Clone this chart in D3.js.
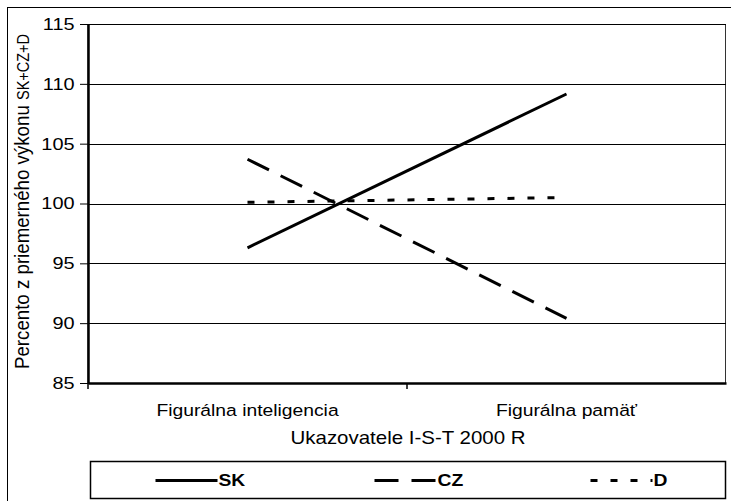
<!DOCTYPE html>
<html>
<head>
<meta charset="utf-8">
<script src="https://cdn.jsdelivr.net/npm/d3@7"></script>
<style>
  body { margin: 0; background: #fff; }
  text { font-family: "Liberation Sans", Arial, sans-serif; fill: #000; }
</style>
</head>
<body>
<div id="chart"></div>
<script>
var categories = ["Figurálna inteligencia", "Figurálna pamäť"];
var seriesNames = ["SK", "CZ", "D"];
var skValues = [96.3, 109.15];
var czValues = [103.7, 90.4];
var dValues = [100.1, 100.5];
var yTicks = [85, 90, 95, 100, 105, 110, 115];

var series = [
    {name: seriesNames[0], values: skValues, dash: null},
    {name: seriesNames[1], values: czValues, dash: "24,13"},
    {name: seriesNames[2], values: dValues, dash: "7,13"}
];

var W = 731, H = 501;
var margin = {top: 24, right: 5, bottom: 118, left: 88};
var width = W - margin.left - margin.right;
var height = H - margin.top - margin.bottom;
var stretch = "scale(1.17,1)";   // reference text looks horizontally stretched

var svg = d3.select("#chart").append("svg")
    .attr("width", W)
    .attr("height", H);

// outer frame
svg.append("rect")
    .attr("x", 7.5).attr("y", 7.5)
    .attr("width", 760).attr("height", 520)
    .attr("fill", "none").attr("stroke", "#000").attr("stroke-width", 1);

var chart = svg.append("g")
    .attr("transform", "translate(" + margin.left + "," + margin.top + ")");

var x = d3.scaleBand().domain(categories).range([0, width]).padding(0);
var y = d3.scaleLinear().domain([85, 115]).range([height, 0]);

// plot border
chart.append("rect")
    .attr("x", 0).attr("y", 0.5)
    .attr("width", width - 0.5).attr("height", height)
    .attr("fill", "none").attr("stroke", "#333").attr("stroke-width", 1);

// gridlines
chart.selectAll(".grid")
    .data(yTicks.slice(1))
    .enter().append("line")
    .attr("class", "grid")
    .attr("x1", 0).attr("x2", width)
    .attr("y1", function(d) { return Math.round(y(d)) + 0.5; })
    .attr("y2", function(d) { return Math.round(y(d)) + 0.5; })
    .attr("stroke", "#000").attr("stroke-width", 1);

// y axis
var yAxis = chart.append("g")
    .attr("class", "axis")
    .call(d3.axisLeft(y).tickValues(yTicks).tickSize(8).tickSizeOuter(0).tickPadding(4));
yAxis.select(".domain").attr("stroke-width", 2.5);
yAxis.selectAll(".tick line").attr("stroke-width", 1);
yAxis.selectAll("text")
    .attr("x", -11.5)
    .attr("transform", stretch)
    .style("font-size", "17px")
    .style("font-family", "'Liberation Sans', Arial, sans-serif");

// x axis
var xAxis = chart.append("g")
    .attr("class", "axis")
    .attr("transform", "translate(0," + height + ")")
    .call(d3.axisBottom(x).tickSize(0).tickSizeOuter(0).tickPadding(21));
xAxis.select(".domain").attr("stroke-width", 2.5);
xAxis.selectAll("text")
    .attr("transform", stretch)
    .style("font-size", "16.5px")
    .style("font-family", "'Liberation Sans', Arial, sans-serif");

// category boundary ticks
chart.selectAll(".xtick")
    .data([0, width / 2])
    .enter().append("line")
    .attr("class", "xtick")
    .attr("x1", function(d) { return d; }).attr("x2", function(d) { return d; })
    .attr("y1", height).attr("y2", height + 6)
    .attr("stroke", "#000").attr("stroke-width", 1.5);

// axis titles
chart.append("g")
    .attr("transform", "translate(" + (width / 2 + 1) + "," + (height + 61) + ") " + stretch)
    .append("text")
    .attr("text-anchor", "middle")
    .style("font-size", "17.5px")
    .text("Ukazovatele I-S-T 2000 R");

var yTitle = chart.append("text")
    .attr("transform", "translate(" + (-59) + "," + (height / 2 - 2) + ") rotate(-90) scale(1,1.1)")
    .attr("text-anchor", "middle")
    .style("font-size", "18.7px");
yTitle.append("tspan").text("Percento z priemerného výkonu ");
yTitle.append("tspan").style("font-size", "14.5px").text("SK+CZ+D");

// lines
var line = d3.line()
    .x(function(d, i) { return x(categories[i]) + x.bandwidth() / 2; })
    .y(function(d) { return y(d); });

chart.selectAll(".series")
    .data(series)
    .enter().append("path")
    .attr("class", "series")
    .attr("d", function(d) { return line(d.values); })
    .attr("fill", "none")
    .attr("stroke", "#000")
    .attr("stroke-width", 3)
    .attr("stroke-dasharray", function(d) { return d.dash; });

// legend
var legend = svg.append("g").attr("transform", "translate(90.5,461.5)");
legend.append("rect")
    .attr("width", 635).attr("height", 37)
    .attr("fill", "#fff").attr("stroke", "#000").attr("stroke-width", 1.5);

var legendX = [65, 284, 500];
var items = legend.selectAll(".item")
    .data(series)
    .enter().append("g")
    .attr("class", "item")
    .attr("transform", function(d, i) { return "translate(" + legendX[i] + ",19)"; });

items.append("line")
    .attr("x1", 0).attr("x2", 62)
    .attr("stroke", "#000").attr("stroke-width", 3)
    .attr("stroke-dasharray", function(d) { return d.dash; });

items.append("text")
    .attr("x", 63)
    .attr("dy", "0.36em")
    .attr("transform", stretch)
    .attr("transform-origin", "63 0")
    .style("font-size", "16.5px")
    .style("font-weight", "bold")
    .text(function(d) { return d.name; });
</script>
</body>
</html>
